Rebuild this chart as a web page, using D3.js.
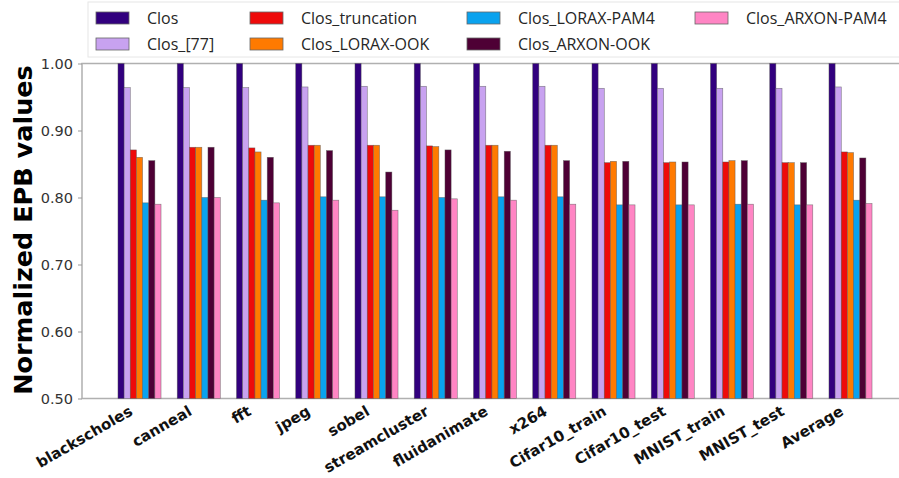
<!DOCTYPE html>
<html>
<head>
<meta charset="utf-8">
<script src="https://cdn.jsdelivr.net/npm/d3@7"></script>
<style>
  body { margin: 0; background: #fff; }
  svg { display: block; }
  .legend text { font-family: "Open Sans", sans-serif; font-size: 16px; fill: #262626; }
  .yaxis text { font-family: "DejaVu Sans", sans-serif; font-size: 14.5px; fill: #333; }
  .xaxis text { font-family: "DejaVu Sans", sans-serif; font-size: 15px; font-weight: bold; fill: #111; }
</style>
</head>
<body>
<svg id="chart"></svg>
<script>
var categories = ['blackscholes', 'canneal', 'fft', 'jpeg', 'sobel', 'streamcluster', 'fluidanimate',
    'x264', 'Cifar10_train', 'Cifar10_test', 'MNIST_train', 'MNIST_test', 'Average'];
var seriesNames = ['Clos', 'Clos_[77]', 'Clos_truncation', 'Clos_LORAX-OOK', 'Clos_LORAX-PAM4',
    'Clos_ARXON-OOK', 'Clos_ARXON-PAM4'];
var clos       = [1, 1, 1, 1, 1, 1, 1, 1, 1, 1, 1, 1, 1];
var clos77     = [0.964, 0.964, 0.964, 0.965, 0.966, 0.966, 0.966, 0.966, 0.963, 0.963, 0.963, 0.963, 0.965];
var truncation = [0.871, 0.875, 0.874, 0.878, 0.878, 0.877, 0.878, 0.878, 0.852, 0.852, 0.853, 0.852, 0.868];
var loraxOOK   = [0.860, 0.875, 0.868, 0.878, 0.878, 0.876, 0.878, 0.878, 0.854, 0.853, 0.855, 0.852, 0.867];
var loraxPAM4  = [0.792, 0.800, 0.796, 0.801, 0.801, 0.800, 0.801, 0.801, 0.789, 0.789, 0.790, 0.789, 0.796];
var arxonOOK   = [0.855, 0.875, 0.860, 0.870, 0.838, 0.871, 0.869, 0.855, 0.854, 0.853, 0.855, 0.852, 0.859];
var arxonPAM4  = [0.790, 0.800, 0.792, 0.796, 0.781, 0.798, 0.796, 0.790, 0.789, 0.789, 0.790, 0.789, 0.791];
var yTicks = [0.5, 0.6, 0.7, 0.8, 0.9, 1.0];

var series = [clos, clos77, truncation, loraxOOK, loraxPAM4, arxonOOK, arxonPAM4];
var COLORS = ['#32007e', '#c8a2f0', '#ee0a0a', '#ff7a00', '#0aa2ee', '#4e0035', '#ff85c4'];

var W = 899, H = 478;
var PLOT = {left: 82, right: 905, top: 63.5, bottom: 398.5};
var BAR_W = 6.15;

var svg = d3.select('#chart').attr('width', W).attr('height', H);

var xScale = d3.scaleLinear().domain([0, categories.length - 1]).range([139.5, 850.5]);
var yScale = d3.scaleLinear().domain([0.5, 1.0]).range([PLOT.bottom, PLOT.top]);

// frame (left, top, bottom)
svg.append('path')
    .attr('d', 'M' + PLOT.right + ',' + PLOT.top + 'H' + PLOT.left + 'V' + PLOT.bottom + 'H' + PLOT.right)
    .attr('fill', 'none').attr('stroke', '#b0b0b0').attr('stroke-width', 1.5);

// bars
series.forEach(function(vals, j) {
    svg.append('g').selectAll('rect').data(vals).enter().append('rect')
        .attr('x', function(d, i) { return xScale(i) + (j - 3.5) * BAR_W; })
        .attr('width', BAR_W)
        .attr('y', function(d) { return yScale(d); })
        .attr('height', function(d) { return yScale(0.5) - yScale(d); })
        .attr('fill', COLORS[j])
        .attr('stroke', '#555').attr('stroke-width', 0.6).attr('stroke-opacity', 0.7);
});

// y axis
var yAxis = d3.axisLeft(yScale).tickValues(yTicks).tickFormat(d3.format('.2f')).tickSize(4).tickPadding(5);
var gy = svg.append('g').attr('class', 'yaxis').attr('transform', 'translate(' + PLOT.left + ',0)').call(yAxis);
gy.select('.domain').remove();
gy.selectAll('line').attr('stroke', '#999');

// x axis labels
var xAxis = d3.axisBottom(xScale).tickValues(d3.range(categories.length))
    .tickFormat(function(i) { return categories[i]; }).tickSize(0);
var gx = svg.append('g').attr('class', 'xaxis').attr('transform', 'translate(0,' + PLOT.bottom + ')').call(xAxis);
gx.select('.domain').remove();
gx.selectAll('text')
    .attr('text-anchor', 'end')
    .attr('x', 0).attr('y', 0).attr('dy', '0.75em')
    .attr('transform', 'translate(-12,6) rotate(-30)');

// y label
svg.append('text')
    .attr('transform', 'translate(32,' + ((PLOT.top + PLOT.bottom) / 2 - 1) + ') rotate(-90)')
    .attr('text-anchor', 'middle')
    .style('font-family', '"DejaVu Sans", sans-serif').style('font-size', '25.5px').style('font-weight', 'bold')
    .text('Normalized EPB values');

// legend
var legendCols = [96, 250, 467, 695];
var legendRows = [18, 44];
var legend = svg.append('g').attr('class', 'legend');
legend.append('rect').attr('x', 88).attr('y', 2).attr('width', 830).attr('height', 55)
    .attr('fill', '#fff').attr('stroke', '#e6e6e6');
seriesNames.forEach(function(name, j) {
    var cx = legendCols[Math.floor(j / 2)], cy = legendRows[j % 2];
    legend.append('rect').attr('x', cx).attr('y', cy - 6).attr('width', 33).attr('height', 12)
        .attr('fill', COLORS[j]).attr('stroke', '#666').attr('stroke-width', 0.8);
    legend.append('text').attr('x', cx + 51).attr('y', cy).attr('dy', '0.35em').text(name);
});
</script>
</body>
</html>
